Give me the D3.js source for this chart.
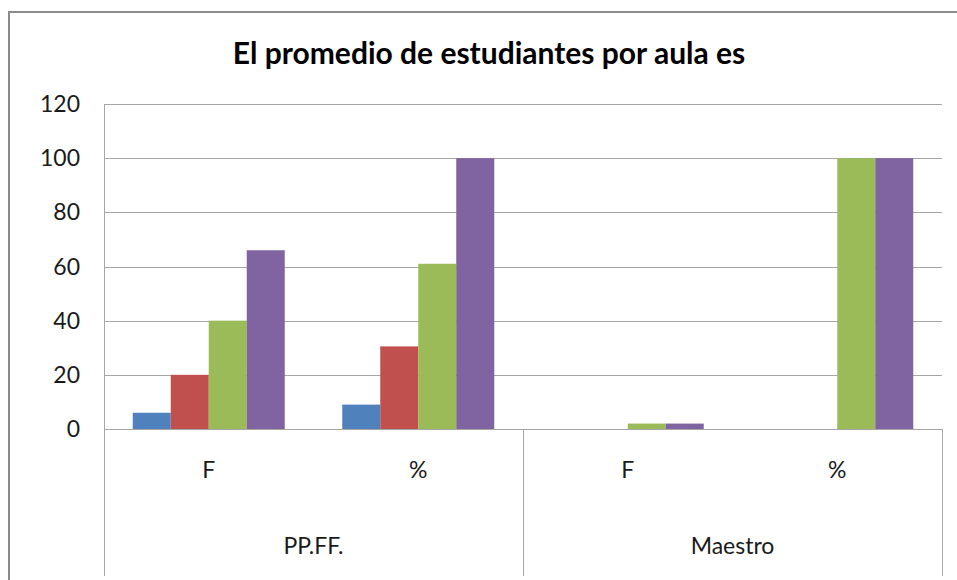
<!DOCTYPE html>
<html>
<head>
<meta charset="utf-8">
<script src="https://cdn.jsdelivr.net/npm/d3@7"></script>
<style>
  body { margin: 0; background: #fff; }
  svg { display: block; }
</style>
</head>
<body>
<div class="chart"></div>
<script>
var groups = ["PP.FF.", "Maestro"];
var subCats = ["F", "%"];
var series = ["S1", "S2", "S3", "S4"];
var colors = ["#4F81BD", "#C0504D", "#9BBB59", "#8064A2"];
// values per series, in order PP.FF.-F, PP.FF.-%, Maestro-F, Maestro-%
var s1 = [6, 9, 0, 0];
var s2 = [20, 30.5, 0, 0];
var s3 = [40, 61, 2, 100];
var s4 = [66, 100, 2, 100];
var yTicks = [0, 20, 40, 60, 80, 100, 120];

function drawChart() {
  var width = 957, height = 580;
  var plotLeft = 104, plotRight = 942, plotTop = 104, plotBottom = 429;
  var font = "Lato, 'Open Sans', sans-serif";

  var cats = [];
  groups.forEach(g => subCats.forEach(c => cats.push(g + "|" + c)));
  var allVals = [s1, s2, s3, s4];

  var svg = d3.select(".chart").append("svg")
    .attr("width", width)
    .attr("height", height);

  // outer chart frame
  svg.append("path")
    .attr("d", "M9,580 V12 H957")
    .style("fill", "none")
    .style("stroke", "#8a8a8a")
    .style("stroke-width", 2);

  var x = d3.scaleBand().domain(cats).range([plotLeft, plotRight]);
  var xSub = d3.scaleBand().domain(series).range([0, 152]);
  var y = d3.scaleLinear().domain([0, 120]).range([plotBottom, plotTop]);

  // gridlines
  svg.append("g")
    .selectAll("line")
    .data(yTicks)
    .enter().append("line")
    .attr("x1", plotLeft)
    .attr("x2", plotRight)
    .attr("y1", d => Math.round(y(d)) + 0.5)
    .attr("y2", d => Math.round(y(d)) + 0.5)
    .style("stroke", "#a6a6a6")
    .style("stroke-width", 1);

  // y labels
  svg.append("g")
    .selectAll("text")
    .data(yTicks)
    .enter().append("text")
    .attr("x", 80)
    .attr("y", d => y(d) + 8)
    .style("text-anchor", "end")
    .style("font-family", font)
    .style("font-size", "23px")
    .style("fill", "#1a1a1a")
    .text(d => d);

  // bars
  var barData = [];
  cats.forEach((c, i) => series.forEach((s, j) => barData.push({cat: c, s: s, v: allVals[j][i], color: colors[j]})));

  svg.append("g")
    .selectAll("rect")
    .data(barData.filter(d => d.v > 0))
    .enter().append("rect")
    .attr("x", d => x(d.cat) + (x.bandwidth() - 152) / 2 + xSub(d.s))
    .attr("width", xSub.bandwidth())
    .attr("y", d => y(d.v))
    .attr("height", d => y(0) - y(d.v))
    .style("fill", d => d.color);

  // group separator lines
  var seps = [plotLeft, x(groups[1] + "|F"), plotRight];
  svg.append("g")
    .selectAll("line")
    .data(seps)
    .enter().append("line")
    .attr("x1", d => Math.round(d) + 0.5)
    .attr("x2", d => Math.round(d) + 0.5)
    .attr("y1", (d, i) => i === 0 ? plotTop : plotBottom)
    .attr("y2", 576)
    .style("stroke", "#a6a6a6")
    .style("stroke-width", 1);

  // category labels
  svg.append("g")
    .selectAll("text")
    .data(cats)
    .enter().append("text")
    .attr("x", d => x(d) + x.bandwidth() / 2)
    .attr("y", 478)
    .style("text-anchor", "middle")
    .style("font-family", font)
    .style("font-size", "23px")
    .style("fill", "#1a1a1a")
    .text(d => d.split("|")[1]);

  // group labels
  svg.append("g")
    .selectAll("text")
    .data(groups)
    .enter().append("text")
    .attr("x", d => x(d + "|F") + x.bandwidth())
    .attr("y", 554)
    .style("text-anchor", "middle")
    .style("font-family", font)
    .style("font-size", "23px")
    .style("fill", "#1a1a1a")
    .text(d => d);

  // title
  svg.append("text")
    .attr("x", 489)
    .attr("y", 64)
    .style("text-anchor", "middle")
    .style("font-family", font)
    .style("font-weight", "bold")
    .style("font-size", "30px")
    .style("fill", "#000")
    .text("El promedio de estudiantes por aula es");
}

drawChart();
</script>
</body>
</html>
